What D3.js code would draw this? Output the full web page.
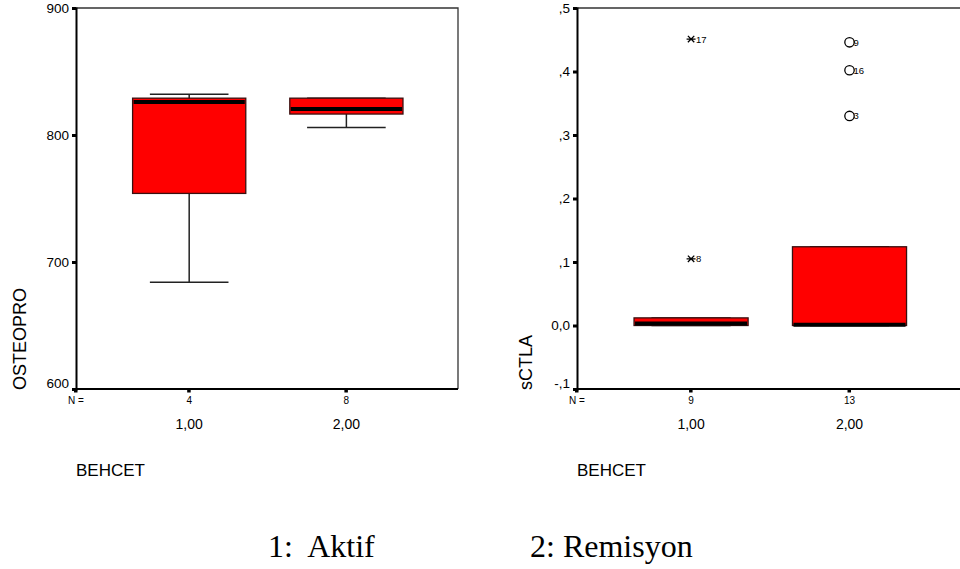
<!DOCTYPE html>
<html>
<head>
<meta charset="utf-8">
<script src="https://cdn.jsdelivr.net/npm/d3@7"></script>
<style>
  body { margin: 0; background: #fff; }
  svg { display: block; font-family: "Liberation Sans", Arial, sans-serif; }
</style>
</head>
<body>
<svg id="chart" width="960" height="569"></svg>
<script>
// groups (BEHCET) and their counts
var groups = [1, 2];
var groupLabels = ["1,00", "2,00"];

// OSTEOPRO box stats, one entry per group
var osteoN = [4, 8];
var osteoLow = [684, 806];
var osteoQ1 = [754, 816.5];
var osteoMed = [826, 820.5];
var osteoQ3 = [829, 829];
var osteoHigh = [832, 829];
var osteoTicks = [600, 700, 800, 900];
var osteoTickLabels = ["600", "700", "800", "900"];

// sCTLA box stats
var sctlaN = [9, 13];
var sctlaLow = [0, 0];
var sctlaQ1 = [0, 0];
var sctlaMed = [0.003, 0.001];
var sctlaQ3 = [0.012, 0.124];
var sctlaHigh = [0.012, 0.124];
var sctlaTicks = [-0.1, 0, 0.1, 0.2, 0.3, 0.4, 0.5];
var sctlaTickLabels = ["-,1", "0,0", ",1", ",2", ",3", ",4", ",5"];

// sCTLA outliers: group, value, case id, kind ("x" = extreme, "o" = outlier)
var outGroup = [1, 1, 2, 2, 2];
var outValue = [0.451, 0.105, 0.446, 0.402, 0.330];
var outId = ["17", "8", "9", "16", "3"];
var outKind = ["x", "x", "o", "o", "o"];

var svg = d3.select("#chart");

function drawPanel(p) {
  var x = d3.scaleLinear().domain([0.28, 2.71]).range([p.left, p.right]);
  var y = d3.scaleLinear().domain(p.domain).range([p.bottom, p.top]);
  var g = svg.append("g");

  // frame top + right (thin)
  g.append("path")
    .attr("d", "M" + p.left + "," + p.top + "H" + p.right + "V" + p.bottom)
    .attr("fill", "none").attr("stroke", "#333").attr("stroke-width", 1.3);

  // y axis
  var yAxis = d3.axisLeft(y).tickValues(p.ticks)
    .tickFormat(function(d, i) { return p.tickLabels[i]; })
    .tickSize(4).tickPadding(3);
  var ya = g.append("g").attr("transform", "translate(" + p.left + ",0)").call(yAxis);
  ya.select(".domain").attr("stroke", "#000").attr("stroke-width", 2);
  ya.selectAll(".tick line").attr("stroke", "#000").attr("stroke-width", 3);
  ya.selectAll(".tick text").attr("font-size", 13.5).attr("fill", "#000")
    .attr("font-family", "Liberation Sans, Arial, sans-serif");
  ya.selectAll(".tick").filter(function(d, i) { return i == 0; })
    .select("text").attr("dy", "-0.1em");

  // bottom axis line
  g.append("line")
    .attr("x1", p.left - 1).attr("x2", p.right)
    .attr("y1", p.bottom).attr("y2", p.bottom)
    .attr("stroke", "#000").attr("stroke-width", 2);
  // small tick squares under the axis
  g.selectAll(".xt").data([0.28].concat(groups)).enter().append("rect")
    .attr("x", function(d) { return x(d) - 2; })
    .attr("y", p.bottom)
    .attr("width", 3.5).attr("height", 3.5)
    .attr("fill", "#000");

  // N = row
  g.append("text").attr("x", p.left).attr("y", p.bottom + 15)
    .attr("text-anchor", "middle").attr("font-size", 10).text("N =");
  g.selectAll(".nl").data(groups).enter().append("text")
    .attr("x", function(d) { return x(d); })
    .attr("y", p.bottom + 15)
    .attr("text-anchor", "middle").attr("font-size", 10)
    .text(function(d, i) { return p.n[i]; });

  // category labels
  g.selectAll(".cl").data(groups).enter().append("text")
    .attr("x", function(d) { return x(d); })
    .attr("y", p.bottom + 40)
    .attr("text-anchor", "middle").attr("font-size", 14)
    .text(function(d, i) { return groupLabels[i]; });

  // axis titles
  g.append("text").attr("x", p.left).attr("y", p.bottom + 87)
    .attr("font-size", 17).text("BEHCET");
  g.append("text")
    .attr("transform", "translate(" + p.titleX + "," + (p.bottom + 1) + ") rotate(-90)")
    .attr("font-size", 18).text(p.title);

  var halfBox = 0.36, halfCap = 0.25;
  var boxes = g.selectAll(".box").data(groups).enter().append("g");

  // whiskers
  boxes.append("line")
    .attr("x1", function(d) { return x(d); }).attr("x2", function(d) { return x(d); })
    .attr("y1", function(d, i) { return y(p.low[i]); })
    .attr("y2", function(d, i) { return y(p.high[i]); })
    .attr("stroke", "#222").attr("stroke-width", 1.5);
  [p.low, p.high].forEach(function(arr) {
    boxes.append("line")
      .attr("x1", function(d) { return x(d - halfCap); })
      .attr("x2", function(d) { return x(d + halfCap); })
      .attr("y1", function(d, i) { return y(arr[i]); })
      .attr("y2", function(d, i) { return y(arr[i]); })
      .attr("stroke", "#222").attr("stroke-width", 1.5);
  });

  // box
  boxes.append("rect")
    .attr("x", function(d) { return x(d - halfBox); })
    .attr("width", function(d) { return x(d + halfBox) - x(d - halfBox); })
    .attr("y", function(d, i) { return y(p.q3[i]); })
    .attr("height", function(d, i) { return y(p.q1[i]) - y(p.q3[i]); })
    .attr("fill", "#ff0000").attr("stroke", "#3a1010").attr("stroke-width", 1.3);

  // median
  boxes.append("line")
    .attr("x1", function(d) { return x(d - halfBox) + 1; })
    .attr("x2", function(d) { return x(d + halfBox) - 1; })
    .attr("y1", function(d, i) { return y(p.med[i]); })
    .attr("y2", function(d, i) { return y(p.med[i]); })
    .attr("stroke", "#000").attr("stroke-width", 4);

  return { x: x, y: y, g: g };
}

var left = drawPanel({
  left: 76, right: 458, top: 8, bottom: 389, titleX: 26,
  domain: [600, 900], ticks: osteoTicks, tickLabels: osteoTickLabels,
  n: osteoN, low: osteoLow, q1: osteoQ1, med: osteoMed, q3: osteoQ3, high: osteoHigh,
  title: "OSTEOPRO"
});

var right = drawPanel({
  left: 577, right: 962, top: 8, bottom: 389, titleX: 532,
  domain: [-0.1, 0.5], ticks: sctlaTicks, tickLabels: sctlaTickLabels,
  n: sctlaN, low: sctlaLow, q1: sctlaQ1, med: sctlaMed, q3: sctlaQ3, high: sctlaHigh,
  title: "sCTLA"
});

// outliers on the sCTLA panel
var pts = right.g.selectAll(".out").data(outValue).enter().append("g")
  .attr("transform", function(d, i) {
    return "translate(" + right.x(outGroup[i]) + "," + right.y(d) + ")";
  });
pts.filter(function(d, i) { return outKind[i] == "o"; })
  .append("circle").attr("r", 4.7)
  .attr("fill", "none").attr("stroke", "#000").attr("stroke-width", 1.3);
var star = pts.filter(function(d, i) { return outKind[i] == "x"; });
star.append("path")
  .attr("d", "M-4.5,0H4.5M-3.2,-3.2L3.2,3.2M-3.2,3.2L3.2,-3.2")
  .attr("stroke", "#000").attr("stroke-width", 1.3);
pts.append("text")
  .attr("x", function(d, i) { return outKind[i] == "o" ? 4 : 5; })
  .attr("y", 3.5)
  .attr("font-size", 9.5)
  .text(function(d, i) { return outId[i]; });

// footer legend
var foot = svg.append("g").attr("font-family", "Liberation Serif, Times New Roman, serif")
  .attr("font-size", 32).attr("fill", "#000");
foot.append("text").attr("x", 268).attr("y", 557).style("white-space", "pre").text("1:  Aktif");
foot.append("text").attr("x", 530).attr("y", 557).style("white-space", "pre").text("2: Remisyon");
</script>
</body>
</html>
